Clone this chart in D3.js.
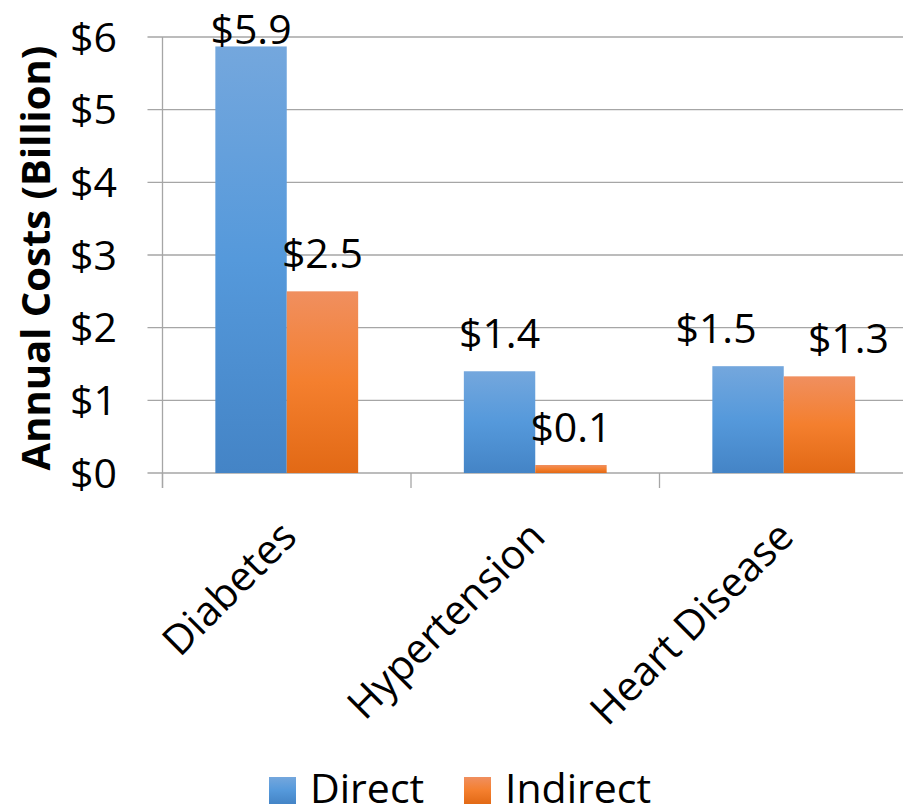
<!DOCTYPE html>
<html>
<head>
<meta charset="utf-8">
<script src="https://cdn.jsdelivr.net/npm/d3@7"></script>
<style>
  body { margin: 0; background: #fff; }
  svg text { font-family: "Open Sans", Calibri, sans-serif; fill: #000; }
</style>
</head>
<body>
<svg id="chart" width="903" height="808"></svg>
<script>
// data
var categories = ["Diabetes", "Hypertension", "Heart Disease"];
var seriesNames = ["Direct", "Indirect"];
var directCosts = [5.87, 1.40, 1.47];
var indirectCosts = [2.50, 0.11, 1.33];
var valueLabels = [["$5.9", "$2.5"], ["$1.4", "$0.1"], ["$1.5", "$1.3"]];
var yTicks = [0, 1, 2, 3, 4, 5, 6];

var svg = d3.select("#chart"),
    width = +svg.attr("width"),
    height = +svg.attr("height");

var plotLeft = 162.5, plotRight = 908, plotTop = 37, plotBottom = 473;

var x0 = d3.scaleBand()
    .domain(categories)
    .range([plotLeft, plotRight])
    .padding(0);

var x1 = d3.scaleBand()
    .domain(seriesNames)
    .range([0, x0.bandwidth()])
    .paddingInner(0)
    .paddingOuter(0.74);

var y = d3.scaleLinear()
    .domain([0, 6])
    .range([plotBottom, plotTop]);

// gradients, one per series, spread over each bar's own height
var defs = svg.append("defs");
var grads = {
  Direct: [["0%", "#74a7dd"], ["50%", "#5599db"], ["100%", "#4484c6"]],
  Indirect: [["0%", "#f08f5f"], ["50%", "#f47f2e"], ["100%", "#e26915"]]
};
seriesNames.forEach(function(s) {
  var g = defs.append("linearGradient")
      .attr("id", "grad-" + s)
      .attr("x1", 0).attr("y1", 0).attr("x2", 0).attr("y2", 1);
  grads[s].forEach(function(st) {
    g.append("stop").attr("offset", st[0]).attr("stop-color", st[1]);
  });
});

// gridlines
svg.append("g")
    .attr("class", "grid")
  .selectAll("line")
  .data(yTicks)
  .enter().append("line")
    .attr("x1", plotLeft - 15)
    .attr("x2", width)
    .attr("y1", function(d) { return y(d); })
    .attr("y2", function(d) { return y(d); })
    .style("stroke", "#a6a6a6")
    .style("stroke-width", 1.3);

// y axis line
svg.append("line")
    .attr("x1", plotLeft).attr("x2", plotLeft)
    .attr("y1", y(6)).attr("y2", plotBottom + 15)
    .style("stroke", "#a6a6a6")
    .style("stroke-width", 1.3);

// category tick marks
var boundaries = categories.map(function(c) { return x0(c); }).concat([plotRight]);
svg.append("g")
  .selectAll("line")
  .data(boundaries)
  .enter().append("line")
    .attr("x1", function(d) { return d; })
    .attr("x2", function(d) { return d; })
    .attr("y1", plotBottom)
    .attr("y2", plotBottom + 15)
    .style("stroke", "#a6a6a6")
    .style("stroke-width", 1.3);

// y tick labels
svg.append("g")
  .selectAll("text")
  .data(yTicks)
  .enter().append("text")
    .attr("x", 117)
    .attr("y", function(d) { return y(d); })
    .attr("dy", "0.36em")
    .attr("text-anchor", "end")
    .style("font-size", "41px")
    .text(function(d) { return "$" + d; });

// y title
svg.append("text")
    .attr("transform", "translate(50,258) rotate(-90)")
    .attr("text-anchor", "middle")
    .style("font-size", "40px")
    .style("font-weight", "bold")
    .text("Annual Costs (Billion)");

// bars
var rows = categories.map(function(c, i) {
  return { cat: c, i: i, values: [
    { key: "Direct", value: directCosts[i], label: valueLabels[i][0] },
    { key: "Indirect", value: indirectCosts[i], label: valueLabels[i][1] }
  ]};
});

var groups = svg.append("g")
  .selectAll("g")
  .data(rows)
  .enter().append("g")
    .attr("transform", function(d) { return "translate(" + x0(d.cat) + ",0)"; });

groups.selectAll("rect")
  .data(function(d) { return d.values; })
  .enter().append("rect")
    .attr("x", function(d) { return x1(d.key); })
    .attr("y", function(d) { return y(d.value); })
    .attr("width", x1.bandwidth())
    .attr("height", function(d) { return plotBottom - y(d.value); })
    .attr("fill", function(d) { return "url(#grad-" + d.key + ")"; });

// value labels; pushed apart sideways when the two in a group would collide
function labelY(v) { return Math.max(y(v) - 23, y(6) + 7); }

groups.each(function(row) {
  var ys = row.values.map(function(d) { return labelY(d.value); });
  var clash = Math.abs(ys[0] - ys[1]) < 40;
  d3.select(this).selectAll("text.val")
    .data(row.values)
    .enter().append("text")
      .attr("class", "val")
      .attr("x", function(d, j) {
        var shift = clash ? (j === 0 ? -32 : 29) : 0;
        return x1(d.key) + x1.bandwidth() / 2 + shift;
      })
      .attr("y", function(d, j) { return ys[j]; })
      .attr("text-anchor", "middle")
      .style("font-size", "41px")
      .text(function(d) { return d.label; });
});

// category labels
svg.append("g")
  .selectAll("text")
  .data(categories)
  .enter().append("text")
    .attr("transform", function(d) {
      return "translate(" + (x0(d) + x0.bandwidth() / 2 + 12) + "," + (plotBottom + 66) + ") rotate(-45)";
    })
    .attr("text-anchor", "end")
    .style("font-size", "41px")
    .text(function(d) { return d; });

// legend
var legend = svg.append("g")
  .selectAll("g")
  .data(seriesNames)
  .enter().append("g")
    .attr("transform", function(d, i) { return "translate(" + (269 + i * 195) + ",777)"; });

legend.append("rect")
    .attr("width", 27)
    .attr("height", 27)
    .attr("fill", function(d) { return "url(#grad-" + d + ")"; });

legend.append("text")
    .attr("x", 41)
    .attr("y", 26)
    .style("font-size", "41px")
    .text(function(d) { return d; });
</script>
</body>
</html>
